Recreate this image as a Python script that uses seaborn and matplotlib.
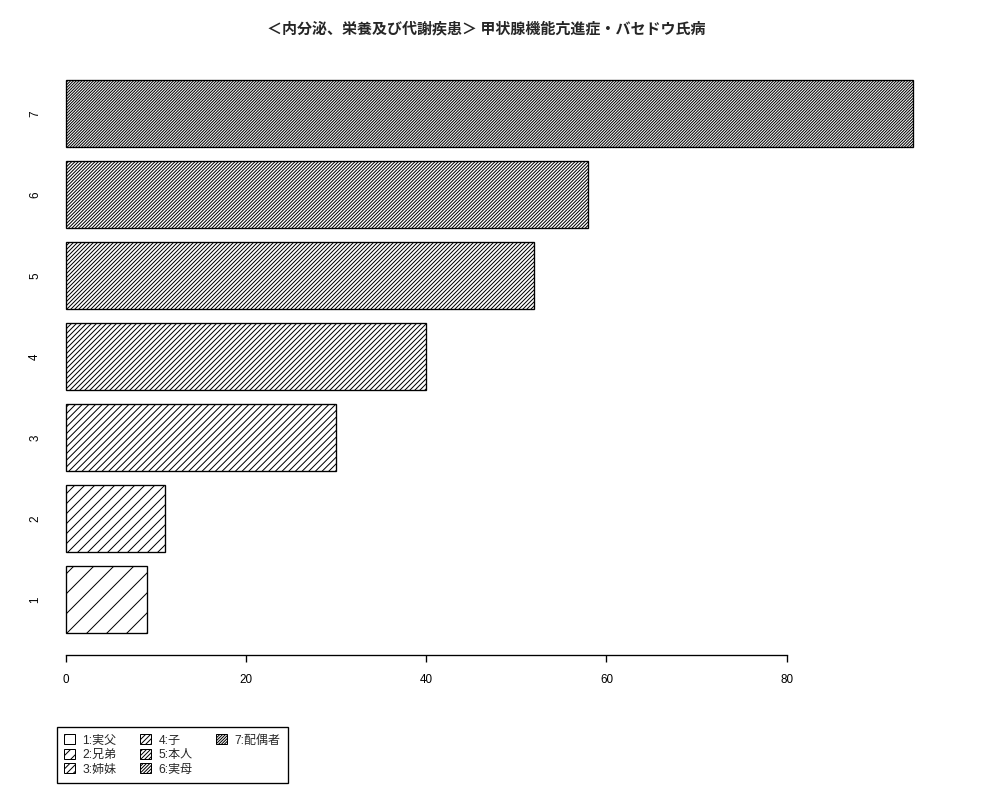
import matplotlib
matplotlib.use("Agg")
import matplotlib.pyplot as plt
import seaborn as sns
import pandas as pd
from matplotlib.patches import Patch

# data
groups = ["1", "2", "3", "4", "5", "6", "7"]
counts = [9, 11, 30, 40, 52, 58, 94]
legend_labels = ["1:実父", "2:兄弟", "3:姉妹", "4:子", "5:本人", "6:実母", "7:配偶者"]
title = "＜内分泌、栄養及び代謝疾患＞ 甲状腺機能亢進症・バセドウ氏病"

df = pd.DataFrame({"group": groups, "count": counts})

sns.set_style("white")
plt.rcParams["font.family"] = ["Liberation Sans", "Noto Sans CJK JP", "DejaVu Sans"]
plt.rcParams["hatch.linewidth"] = 0.6
plt.rcParams["hatch.color"] = "black"

DPI = 120
fig = plt.figure(figsize=(1000 / DPI, 800 / DPI), dpi=DPI)
ax = fig.add_axes([0.057, 0.181, 0.89, 0.746])

sns.barplot(data=df, x="count", y="group", order=groups, orient="h",
            color="white", edgecolor="black", linewidth=0.8, width=0.83,
            saturation=1, ax=ax)

# hatch density grows with the group number
hatches = ["/" * (2 * (i + 1)) for i in range(len(groups))]
for patch, h in zip(ax.patches, hatches):
    patch.set_hatch(h)
    patch.set_facecolor("white")

ax.set_ylim(-0.685, 6.685)
ax.set_xlim(-1, 97.8)
ax.set_xticks([0, 20, 40, 60, 80])
ax.set_xlabel("")
ax.set_ylabel("")
for s in ["left", "top", "right"]:
    ax.spines[s].set_visible(False)
ax.spines["bottom"].set_bounds(0, 80)
ax.spines["bottom"].set_color("black")
ax.spines["bottom"].set_linewidth(0.8)
ax.tick_params(axis="x", bottom=True, length=4.2, width=0.8, color="black",
               labelsize=7, pad=7, labelcolor="black")
ax.tick_params(axis="y", left=False, labelsize=7, pad=6, labelcolor="black")
for lab in ax.get_yticklabels():
    lab.set_rotation(90)
    lab.set_va("center")

fig.text(0.4865, 0.965, title, ha="center", va="center", fontsize=9.0,
         fontweight="bold", family=["Noto Sans CJK JP", "DejaVu Sans"])

handles = [Patch(facecolor="white", edgecolor="black", linewidth=0.6, hatch=h)
           for h in hatches]
labels = list(legend_labels)
# two blank slots so the columns fill 3 / 3 / 1 like the reference
for _ in range(2):
    handles.append(Patch(facecolor="none", edgecolor="none"))
    labels.append("")
leg = fig.legend(handles, labels, ncol=3, loc="upper left",
                 bbox_to_anchor=(0.057, 0.091), borderaxespad=0,
                 frameon=True, fancybox=False,
                 edgecolor="black", framealpha=1,
                 handlelength=0.9, handleheight=0.9, handletextpad=0.6,
                 columnspacing=2.0, labelspacing=0.2, borderpad=0.6,
                 prop={"family": ["Liberation Sans", "Noto Sans CJK JP"], "size": 7.2})
leg.get_frame().set_linewidth(0.8)

fig.savefig("out.png", dpi=DPI)
